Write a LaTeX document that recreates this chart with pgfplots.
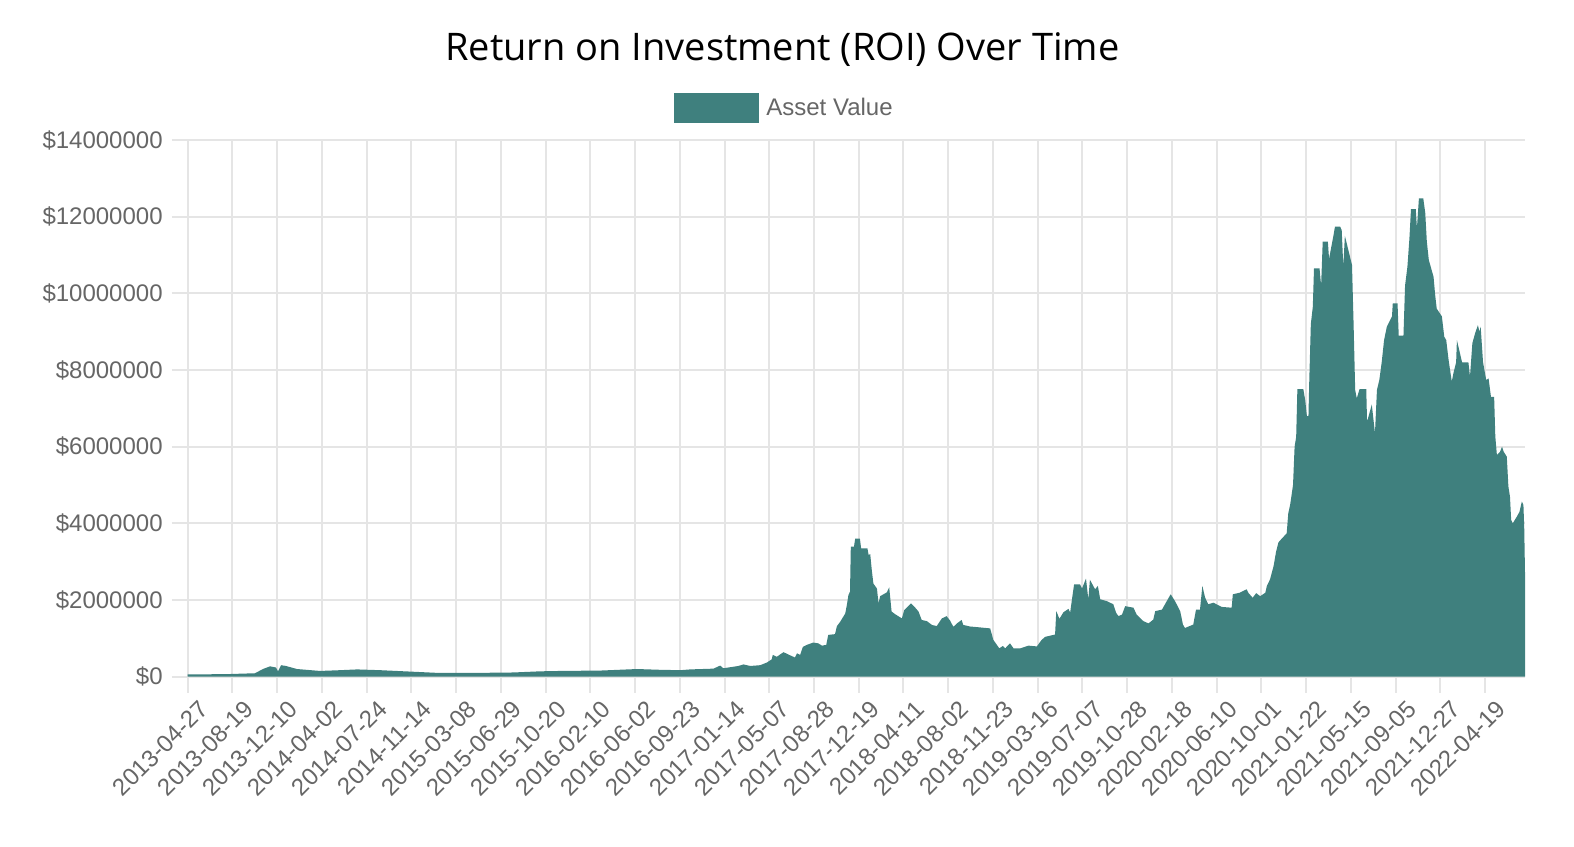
\documentclass[border=0pt]{standalone}
\usepackage{pgfplots}
\pgfplotsset{compat=1.18}
\usepackage{fontspec}
\setmainfont{Liberation Sans}
\newfontfamily\titlefont{Open Sans}
\definecolor{assetteal}{RGB}{63,128,126}
\definecolor{gridgray}{RGB}{229,229,229}
\definecolor{labelgray}{RGB}{102,102,102}

% day index (0 = 2013-04-27), asset value in millions of dollars
\pgfplotstableread{
day value
0 0.06
31 0.06
107 0.07
170 0.09
190 0.20
208 0.27
223 0.24
228 0.14
236 0.30
248 0.28
276 0.20
334 0.15
385 0.17
428 0.19
486 0.17
569 0.13
630 0.10
738 0.10
822 0.11
890 0.14
941 0.15
1042 0.16
1135 0.20
1193 0.18
1244 0.17
1269 0.19
1328 0.21
1345 0.29
1353 0.22
1391 0.28
1404 0.32
1421 0.28
1446 0.30
1463 0.37
1475 0.45
1478 0.57
1488 0.52
1505 0.64
1517 0.58
1534 0.50
1539 0.61
1547 0.57
1554 0.78
1564 0.83
1580 0.89
1593 0.87
1602 0.81
1613 0.83
1618 1.09
1635 1.11
1640 1.32
1648 1.43
1661 1.65
1665 1.87
1669 2.13
1673 2.22
1675 3.39
1683 3.39
1686 3.60
1698 3.60
1701 3.35
1717 3.35
1720 3.17
1724 3.20
1728 2.78
1732 2.43
1741 2.30
1745 1.91
1749 2.10
1766 2.20
1772 2.33
1778 1.70
1787 1.63
1804 1.52
1810 1.74
1827 1.91
1837 1.81
1846 1.70
1854 1.48
1867 1.45
1880 1.35
1892 1.32
1905 1.52
1917 1.58
1926 1.46
1934 1.30
1943 1.39
1955 1.48
1959 1.35
1976 1.31
1997 1.29
2027 1.26
2035 0.96
2044 0.83
2050 0.74
2059 0.80
2065 0.74
2077 0.87
2086 0.74
2103 0.74
2124 0.81
2145 0.79
2157 0.96
2166 1.04
2191 1.10
2194 1.71
2202 1.51
2212 1.68
2225 1.77
2229 1.67
2233 1.97
2239 2.41
2254 2.41
2259 2.30
2269 2.56
2275 2.02
2279 2.53
2292 2.28
2299 2.37
2305 2.02
2322 1.97
2338 1.89
2345 1.67
2351 1.58
2360 1.62
2368 1.84
2389 1.80
2397 1.62
2414 1.45
2427 1.39
2439 1.49
2444 1.71
2461 1.75
2473 1.97
2483 2.15
2494 1.97
2507 1.71
2514 1.36
2519 1.27
2540 1.36
2547 1.75
2557 1.75
2563 2.37
2570 2.06
2578 1.89
2591 1.93
2612 1.82
2637 1.80
2640 2.15
2657 2.19
2675 2.28
2679 2.19
2690 2.06
2699 2.18
2709 2.10
2722 2.19
2726 2.37
2734 2.54
2743 2.89
2749 3.25
2755 3.50
2759 3.55
2776 3.74
2780 4.26
2785 4.50
2792 5.00
2796 6.00
2800 6.26
2803 7.50
2818 7.50
2823 7.20
2827 6.80
2831 6.80
2833 7.70
2837 9.20
2842 9.65
2845 10.65
2859 10.65
2863 10.20
2867 11.35
2880 11.35
2883 10.90
2894 11.50
2898 11.74
2911 11.74
2915 11.65
2919 10.70
2923 11.50
2941 10.74
2945 9.20
2949 7.48
2953 7.26
2960 7.50
2977 7.50
2979 6.65
2991 7.10
2999 6.35
3004 7.48
3010 7.74
3016 8.20
3022 8.78
3029 9.13
3042 9.40
3044 9.74
3056 9.74
3059 8.90
3071 8.90
3075 10.20
3081 10.70
3086 11.43
3090 12.20
3102 12.20
3105 11.70
3110 12.48
3121 12.48
3126 12.10
3130 11.35
3135 10.87
3147 10.43
3151 9.96
3155 9.60
3168 9.40
3174 8.87
3179 8.78
3185 8.26
3193 7.70
3197 7.91
3204 8.20
3206 8.78
3219 8.20
3235 8.20
3239 7.83
3245 8.70
3252 8.96
3259 9.17
3263 9.00
3266 9.13
3272 8.20
3280 7.74
3286 7.78
3292 7.30
3300 7.30
3303 6.26
3307 5.78
3315 5.87
3320 6.00
3324 5.87
3332 5.74
3336 4.96
3340 4.70
3343 4.09
3347 4.00
3357 4.17
3364 4.30
3370 4.57
3374 4.48
3376 3.90
3378 2.70
}\assetdata

\begin{document}
\begin{tikzpicture}
\begin{axis}[
  at={(0pt,0pt)}, anchor=south west,
  scale only axis, width=668.65pt, height=268.35pt,
  xmin=0, xmax=3378, ymin=0, ymax=14,
  axis lines=left, axis line style={draw=gridgray, line width=1pt, -},
  grid=major, major grid style={draw=gridgray, line width=1pt},
  tick align=outside, major tick length=8pt,
  major tick style={draw=gridgray, line width=1pt},
  xtick={0,113,226,339,452,565,678,791,904,1017,1130,1243,1356,1469,1582,1695,1808,1921,2034,2147,2260,2373,2486,2599,2712,2825,2938,3051,3164,3277},
  xticklabels={2013-04-27,2013-08-19,2013-12-10,2014-04-02,2014-07-24,2014-11-14,2015-03-08,2015-06-29,2015-10-20,2016-02-10,2016-06-02,2016-09-23,2017-01-14,2017-05-07,2017-08-28,2017-12-19,2018-04-11,2018-08-02,2018-11-23,2019-03-16,2019-07-07,2019-10-28,2020-02-18,2020-06-10,2020-10-01,2021-01-22,2021-05-15,2021-09-05,2021-12-27,2022-04-19},
  ytick={0,2,4,6,8,10,12,14},
  yticklabels={\$0,\$2000000,\$4000000,\$6000000,\$8000000,\$10000000,\$12000000,\$14000000},
  tick label style={font=\fontsize{12}{14}\selectfont, text=labelgray},
  xticklabel style={rotate=45, anchor=east, xshift=5pt, yshift=-10pt},
  yticklabel style={anchor=east, xshift=-1pt},
  legend style={at={(0.4470,1.0596)}, anchor=center, draw=none, fill=none,
    inner sep=0pt, font=\fontsize{12}{14}\selectfont, text=labelgray,
    /tikz/every odd column/.style={column sep=1.5pt}},
  legend image code/.code={\fill[#1] (0pt,-7.5pt) rectangle (42.5pt,7.5pt);},
]
\addplot[fill=assetteal, draw=none] table[x=day, y=value] {\assetdata} \closedcycle;
\addlegendentry{Asset Value}
\end{axis}
\node[anchor=base, inner sep=0pt, font=\titlefont\fontsize{19}{22}\selectfont] at (297.4pt,307.85pt) {Return on Investment (ROI) Over Time};
\pgfresetboundingbox
\useasboundingbox (-93.85pt,-84.65pt) rectangle (693.15pt,338.35pt);
\end{tikzpicture}
\end{document}
